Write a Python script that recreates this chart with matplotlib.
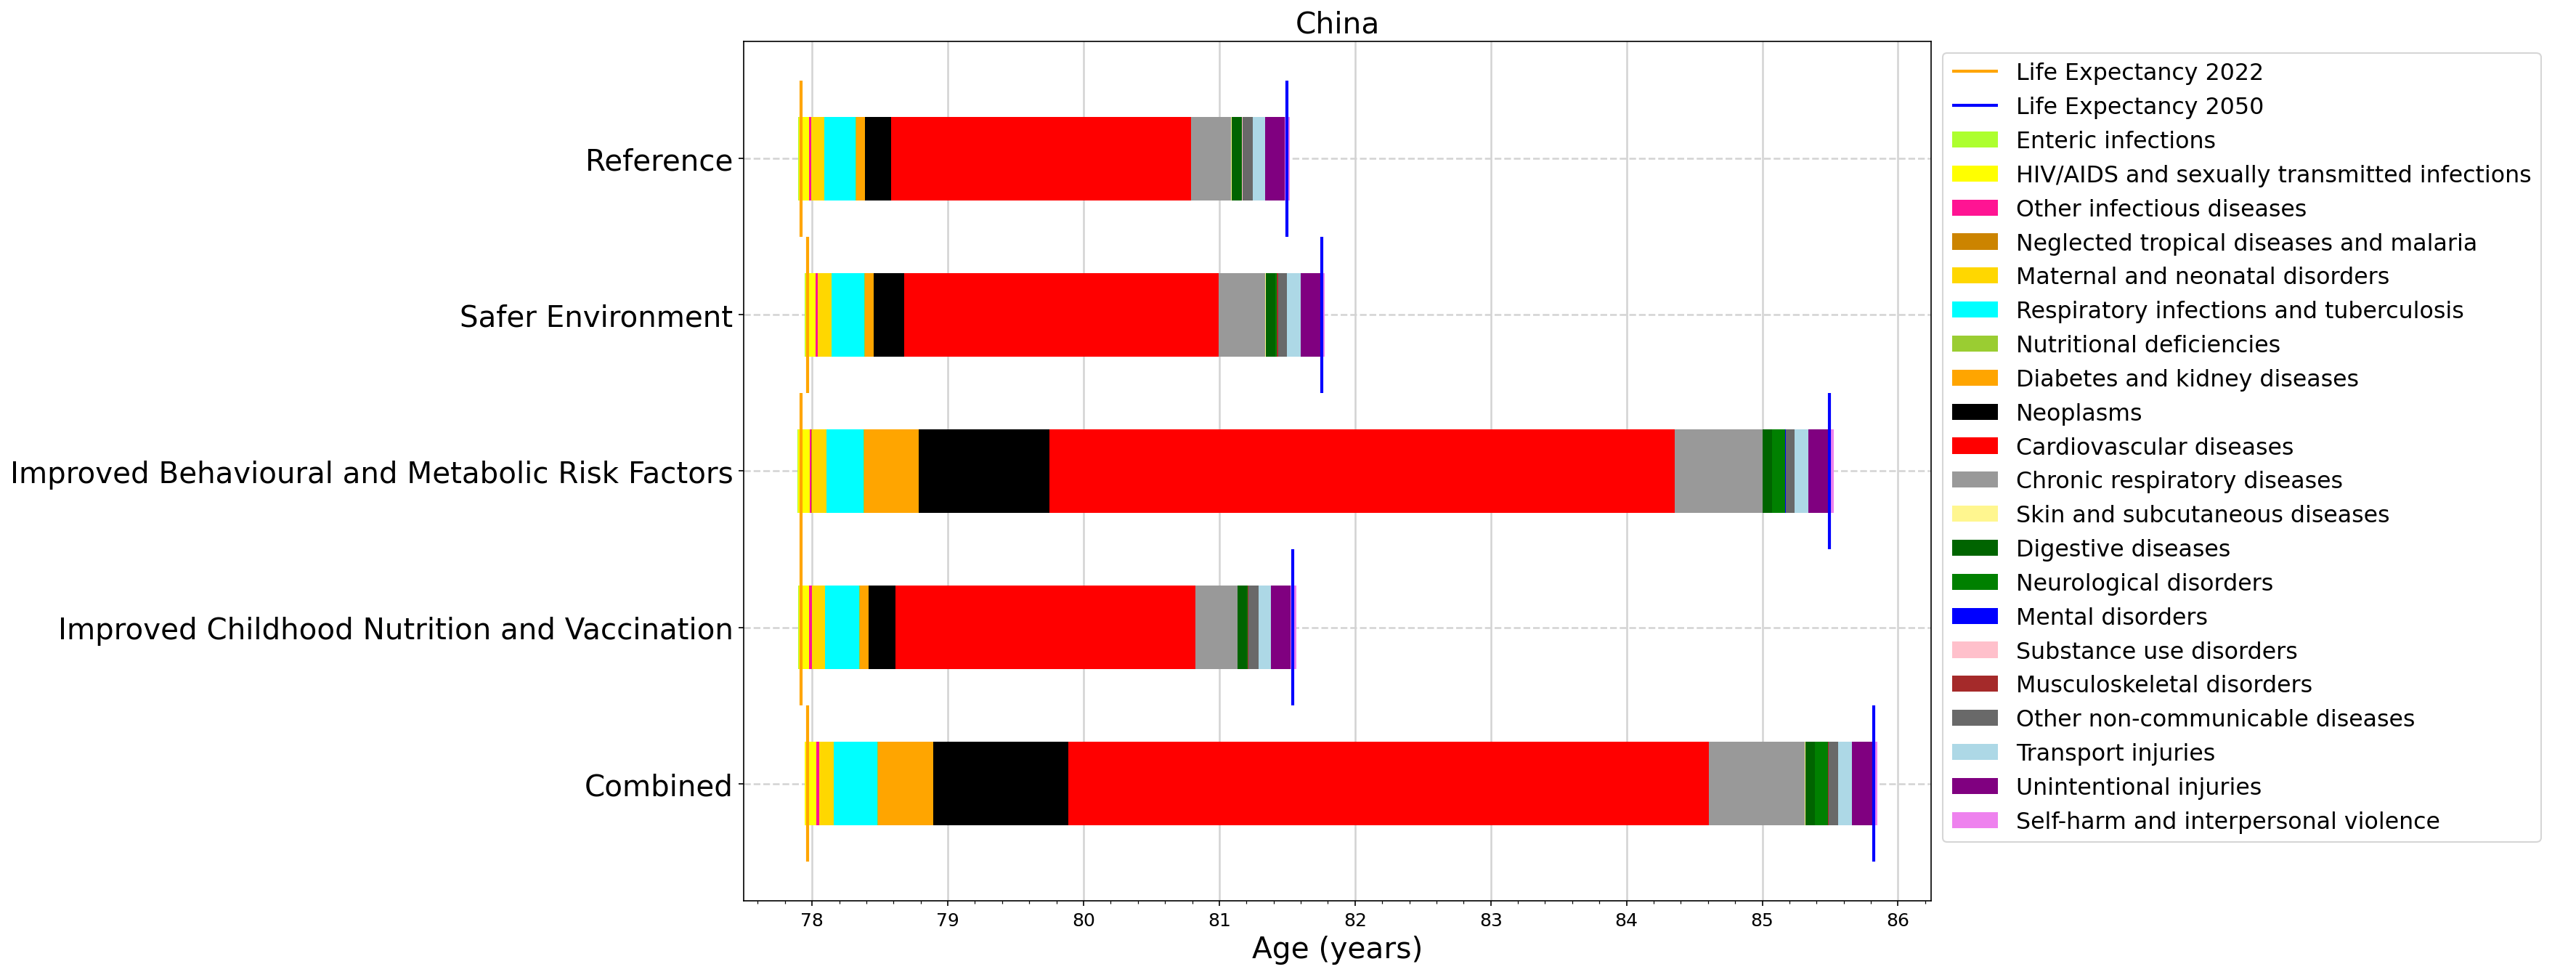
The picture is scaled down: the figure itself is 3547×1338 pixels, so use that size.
import matplotlib
matplotlib.use('Agg')
import matplotlib.pyplot as plt
from matplotlib.ticker import MultipleLocator

# scenarios (top to bottom)
scenarios = ['Reference', 'Safer Environment',
             'Improved Behavioural and Metabolic Risk Factors',
             'Improved Childhood Nutrition and Vaccination', 'Combined']

causes = ['Enteric infections', 'HIV/AIDS and sexually transmitted infections',
          'Other infectious diseases', 'Neglected tropical diseases and malaria',
          'Maternal and neonatal disorders', 'Respiratory infections and tuberculosis',
          'Nutritional deficiencies', 'Diabetes and kidney diseases', 'Neoplasms',
          'Cardiovascular diseases', 'Chronic respiratory diseases',
          'Skin and subcutaneous diseases', 'Digestive diseases',
          'Neurological disorders', 'Mental disorders', 'Substance use disorders',
          'Musculoskeletal disorders', 'Other non-communicable diseases',
          'Transport injuries', 'Unintentional injuries',
          'Self-harm and interpersonal violence']

colors = ['greenyellow', 'yellow', 'deeppink', '#cc8400', 'gold', 'cyan',
          'yellowgreen', 'orange', 'black', 'red', '#999999', '#fff68f',
          'darkgreen', 'green', 'blue', 'pink', 'brown', 'dimgray',
          'lightblue', 'purple', 'violet']

# life expectancy lines
le_2022 = [77.920, 77.968, 77.920, 77.920, 77.966]
le_2050 = [81.497, 81.756, 85.497, 81.543, 85.822]

# where each stacked bar begins
bar_start = [77.898, 77.947, 77.894, 77.898, 77.943]

# contribution of each cause (years), same order as causes
reference = [0.006, 0.075, 0.016, 0.001, 0.095, 0.230, 0.002, 0.068, 0.191, 2.209,
             0.297, 0.002, 0.075, 0.003, 0.001, 0.001, 0.004, 0.070, 0.092, 0.148, 0.038]
safer_env = [0.005, 0.074, 0.016, 0.001, 0.100, 0.243, 0.002, 0.066, 0.224, 2.315,
             0.346, 0.004, 0.072, 0.008, 0.001, 0.001, 0.007, 0.068, 0.098, 0.144, 0.035]
behav_metab = [0.004, 0.083, 0.015, 0.001, 0.107, 0.276, 0.002, 0.402, 0.966, 4.607,
               0.644, 0.004, 0.068, 0.097, 0.001, 0.001, 0.004, 0.060, 0.102, 0.164, 0.026]
child_nutr = [0.005, 0.077, 0.019, 0.001, 0.097, 0.251, 0.002, 0.066, 0.199, 2.211,
              0.306, 0.002, 0.072, 0.003, 0.001, 0.001, 0.005, 0.071, 0.096, 0.144, 0.038]
combined = [0.004, 0.085, 0.021, 0.001, 0.103, 0.325, 0.002, 0.407, 0.997, 4.719,
            0.706, 0.004, 0.070, 0.096, 0.001, 0.001, 0.003, 0.070, 0.102, 0.151, 0.036]

values = [reference, safer_env, behav_metab, child_nutr, combined]

fig = plt.figure(figsize=(3547 / 150, 1339 / 150), dpi=150)
ax = fig.add_axes([0.2887, 0.0732, 0.7497 - 0.2887, 0.9567 - 0.0732])

ypos = list(range(len(scenarios)))

# life expectancy markers
ax.vlines(le_2022, [y - 0.5 for y in ypos], [y + 0.5 for y in ypos],
          color='orange', linewidth=2, label='Life Expectancy 2022')
ax.vlines(le_2050, [y - 0.5 for y in ypos], [y + 0.5 for y in ypos],
          color='blue', linewidth=2, label='Life Expectancy 2050', zorder=3)

# stacked bars
left = list(bar_start)
for i, cause in enumerate(causes):
    widths = [v[i] for v in values]
    ax.barh(ypos, widths, left=left, height=0.535, color=colors[i], label=cause)
    left = [l + w for l, w in zip(left, widths)]

# 5% margins around the data, as autoscale would give
lo = min(bar_start)
hi = max(left)
pad = 0.05 * (hi - lo)
ax.set_xlim(lo - pad, hi + pad)
ax.set_ylim(len(scenarios) - 0.25, -0.75)

ax.set_yticks(ypos)
ax.set_yticklabels(scenarios, fontsize=19.4)
ax.tick_params(axis='x', labelsize=12)
ax.xaxis.set_minor_locator(MultipleLocator(0.2))

ax.set_axisbelow(True)
ax.grid(axis='x', color='lightgray', linestyle='-', linewidth=1.2)
ax.grid(axis='y', color='lightgray', linestyle='--', linewidth=1.2)

ax.set_xlabel('Age (years)', fontsize=19.5)
ax.set_title('China', fontsize=19.5)

ax.legend(loc='upper left', bbox_to_anchor=(1, 1), fontsize=15.2)

fig.savefig('out.png', dpi=150)
